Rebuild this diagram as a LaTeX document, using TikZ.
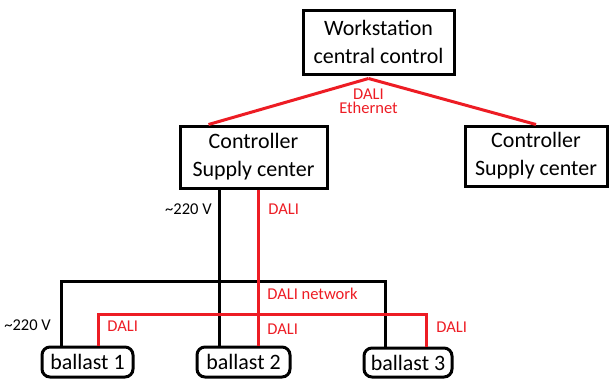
\documentclass[tikz,border=0pt]{standalone}
\usepackage{fontspec}
\setmainfont{Carlito}
\usepackage{tikz}

\definecolor{wirered}{RGB}{237,28,36}

\begin{document}
\begin{tikzpicture}[
        box/.style={draw, line width=0.06cm, inner sep=0pt, align=center,
            font=\fontsize{12.5pt}{15.9pt}\selectfont},
        ballastbox/.style={box, rounded corners=0.16cm},
        power/.style={line width=0.06cm},
        dali/.style={line width=0.06cm, wirered},
        lbl/.style={inner sep=0pt, font=\fontsize{9.4pt}{8pt}\selectfont},
        redlbl/.style={lbl, text=wirered, align=center}]
        \useasboundingbox (0,0) rectangle (12.18,7.58) ;

        \node[box, minimum width=3.02cm, minimum height=1.28cm] (ws) at (7.57,6.74) {Workstation\\central control} ;
        \node[box, minimum width=2.94cm, minimum height=1.24cm] (c1) at (5.07,4.44) {Controller\\Supply center} ;
        \node[box, minimum width=2.84cm, minimum height=1.2cm] (c2) at (10.72,4.46) {Controller\\Supply center} ;

        \node[ballastbox, minimum width=1.82cm, minimum height=0.6cm] (b1) at (1.75,0.34) {ballast 1} ;
        \node[ballastbox, minimum width=1.86cm, minimum height=0.6cm] (b2) at (4.87,0.34) {ballast 2} ;
        \node[ballastbox, minimum width=1.76cm, minimum height=0.58cm] (b3) at (8.16,0.33) {ballast 3} ;

        % Ethernet links
        \draw[dali] ([xshift=-0.2cm, yshift=-0.06cm]ws.south) -- ([xshift=0.6cm]c1.north west) ;
        \draw[dali] ([xshift=-0.2cm, yshift=-0.06cm]ws.south) -- (c2.north) ;
        \node[redlbl] (eth) at (7.37,5.56) {DALI\\Ethernet} ;

        % bus points
        \coordinate (pL) at (1.22,1.96) ;
        \coordinate (pM) at (4.38,1.96) ;
        \coordinate (pR) at (7.70,1.96) ;
        \coordinate (dL) at (1.96,1.30) ;
        \coordinate (dM) at (5.16,1.30) ;
        \coordinate (dR) at (8.52,1.30) ;

        % mains
        \draw[power] (c1.south -| pM) -- (b2.north -| pM) ;
        \draw[power] (b1.north -| pL) -- (pL) -- (pR) -- (b3.north -| pR) ;

        % DALI
        \draw[dali] (c1.south -| dM) -- (b2.north -| dM) ;
        \draw[dali] (b1.north -| dL) -- (dL) -- (dR) -- (b3.north -| dR) ;

        \node[lbl, anchor=east] (v1) at (4.24,3.40) {\textasciitilde220 V} ;
        \node[redlbl, anchor=west] (d1) at (5.36,3.40) {DALI} ;
        \node[lbl, anchor=west] (v2) at (0.08,1.08) {\textasciitilde220 V} ;
        \node[redlbl, anchor=west] (net) at (5.34,1.70) {DALI network} ;
        \node[redlbl, anchor=west] (d2) at (2.14,1.06) {DALI} ;
        \node[redlbl, anchor=west] (d3) at (5.34,1.00) {DALI} ;
        \node[redlbl, anchor=west] (d4) at (8.72,1.04) {DALI} ;
    \end{tikzpicture}
\end{document}
